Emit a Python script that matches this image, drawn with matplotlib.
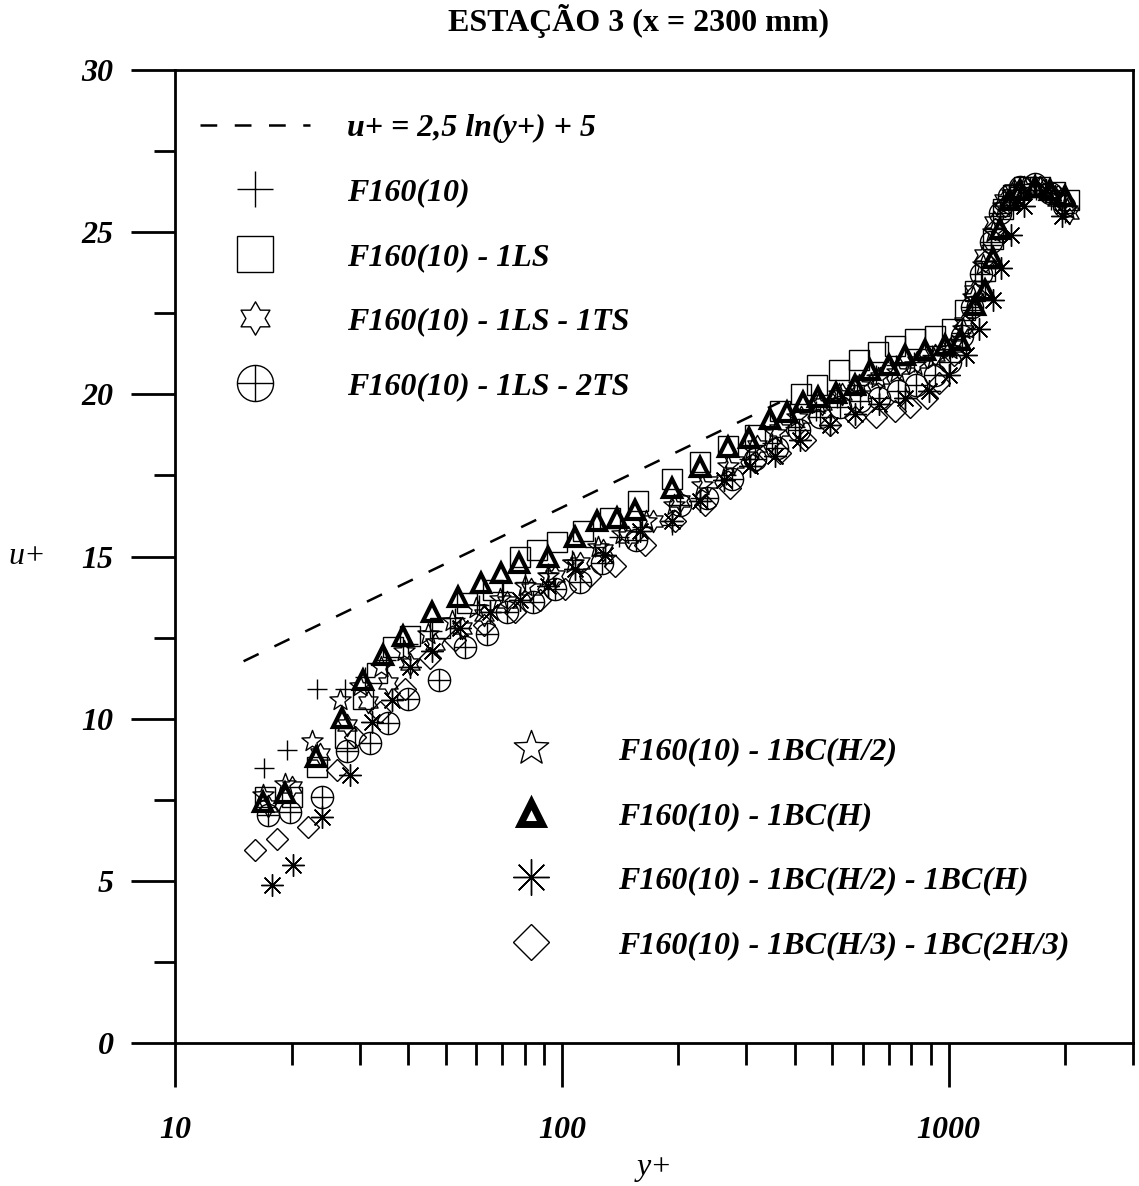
import numpy as np
import matplotlib
matplotlib.use("Agg")
import matplotlib.pyplot as plt
from matplotlib.path import Path
from matplotlib.lines import Line2D
from matplotlib.ticker import FixedLocator, FixedFormatter, NullFormatter

# ---------------- data: velocity profiles, station 3 ----------------
# F160(10)
yp_f160 = [16.9, 19.4, 23.2, 27.5, 31, 35, 40, 46, 53, 61, 70, 80, 92, 106, 122, 140,
           161, 192, 228, 266, 305, 350, 400, 455, 515, 580, 650, 730, 815, 905, 1000,
           1080, 1150, 1220, 1290, 1360, 1440, 1540, 1680, 1840, 2000]
up_f160 = [8.48, 9.03, 10.9, 10.9, 11.3, 11.8, 12.3, 12.7, 13.1, 13.5, 13.9, 14.2, 14.5,
           14.9, 15.3, 15.6, 15.9, 15.97, 16.8, 17.5, 18.0, 18.5, 19.0, 19.5, 19.9, 20.3,
           20.6, 20.9, 21.0, 21.2, 21.4, 21.9, 22.6, 23.5, 24.6, 25.5, 26.0, 26.3, 26.3,
           26.0, 25.6]

# F160(10) - 1LS
yp_1ls = [17.0, 20.0, 23.2, 27.4, 30.5, 33.2, 36.5, 40.4, 48.2, 56.7, 66.3, 78, 86, 97,
          113, 133, 157, 193, 227, 268, 316, 367, 414, 458, 521, 587, 655, 725, 817, 920,
          1018, 1100, 1168, 1240, 1300, 1380, 1470, 1570, 1720, 1880, 2050]
up_1ls = [7.6, 7.6, 8.5, 9.4, 10.6, 11.4, 12.2, 12.55, 12.8, 13.57, 13.97, 15.0, 15.2,
          15.45, 15.8, 16.2, 16.7, 17.4, 17.9, 18.4, 18.75, 19.5, 20.0, 20.3, 20.75, 21.06,
          21.3, 21.5, 21.7, 21.8, 22.0, 22.6, 23.2, 23.8, 24.8, 25.7, 26.15, 26.4, 26.4,
          26.25, 26.0]

# F160(10) - 1LS - 1TS
yp_1ls_1ts = [17.4, 20.0, 23.6, 27.8, 31.5, 35.5, 40.5, 47, 55, 63, 72, 83, 96, 111, 128,
              148, 172, 202, 238, 278, 320, 365, 415, 470, 530, 595, 665, 745, 830, 925,
              1020, 1095, 1165, 1235, 1310, 1390, 1480, 1600, 1750, 1910, 2050]
up_1ls_1ts = [7.3, 7.9, 8.9, 9.8, 10.5, 11.1, 11.7, 12.3, 12.8, 13.2, 13.6, 14.0, 14.4,
              14.8, 15.2, 15.6, 16.1, 16.7, 17.3, 17.9, 18.4, 18.9, 19.3, 19.7, 20.0, 20.3,
              20.5, 20.8, 21.0, 21.2, 21.5, 22.2, 23.2, 24.3, 25.3, 26.0, 26.3, 26.4, 26.3,
              26.0, 25.6]

# F160(10) - 1LS - 2TS
yp_1ls_2ts = [17.4, 19.8, 24.0, 27.8, 31.8, 35.4, 40.0, 48, 56, 64, 72, 84, 96, 111, 127,
              155, 202, 237, 275, 315, 359, 410, 465, 525, 590, 660, 740, 825, 920, 1010,
              1085, 1150, 1215, 1285, 1355, 1430, 1530, 1670, 1830, 1990]
up_1ls_2ts = [7.03, 7.12, 7.6, 9.0, 9.25, 9.87, 10.6, 11.2, 12.2, 12.6, 13.3, 13.6, 14.0,
              14.2, 14.8, 15.5, 16.6, 16.8, 17.4, 18.0, 18.35, 18.9, 19.3, 19.6, 19.8, 19.9,
              20.1, 20.3, 20.6, 21.0, 21.8, 22.7, 23.7, 24.7, 25.6, 26.1, 26.4, 26.5, 26.2,
              25.8]

# F160(10) - 1BC(H/2)
yp_bc_h2 = [16.8, 19.2, 22.6, 26.6, 30, 34, 39, 45, 52, 60, 69, 80, 92, 107, 124, 143, 165,
            195, 230, 268, 310, 355, 405, 460, 520, 585, 655, 735, 820, 915, 1010, 1090,
            1160, 1230, 1300, 1380, 1460, 1570, 1720, 1880, 2020]
up_bc_h2 = [7.65, 8.0, 9.3, 10.58, 11.0, 11.6, 12.1, 12.6, 13.0, 13.4, 13.7, 14.1, 14.4,
            14.8, 15.3, 15.7, 16.1, 16.6, 17.2, 17.8, 18.3, 18.8, 19.3, 19.7, 20.0, 20.3,
            20.5, 20.7, 20.9, 21.1, 21.4, 22.0, 23.0, 24.0, 25.0, 25.8, 26.2, 26.4, 26.4,
            26.1, 25.7]

# F160(10) - 1BC(H)
yp_bc_h = [16.8, 19.2, 23.1, 26.9, 30.5, 34.4, 38.8, 46.0, 53.8, 61.7, 69.5, 77.3, 91.8,
           108, 123, 139, 154, 192, 228, 268, 304, 345, 381, 420, 459, 511, 571, 625, 700,
           770, 867, 977, 1069, 1168, 1240, 1300, 1356, 1439, 1528, 1671, 1827, 1996]
up_bc_h = [7.43, 7.71, 8.82, 10.02, 11.19, 11.96, 12.55, 13.29, 13.75, 14.18, 14.49, 14.8,
           14.99, 15.6, 16.1, 16.19, 16.43, 17.11, 17.76, 18.38, 18.66, 19.24, 19.46, 19.77,
           19.92, 20.04, 20.29, 20.75, 20.9, 21.22, 21.37, 21.52, 21.68, 22.76, 23.22, 24.2,
           25.1, 26.0, 26.3, 26.4, 26.3, 26.1]

# F160(10) - 1BC(H/2) - 1BC(H)
yp_bc_h2_h = [17.8, 20.1, 24.0, 28.3, 32.2, 36.3, 40.4, 46, 54.5, 65, 78, 92, 108, 129, 159,
              192, 228, 262, 306, 355, 412, 492, 571, 662, 770, 890, 1000, 1110, 1200, 1300,
              1370, 1450, 1570, 1790, 1960]
up_bc_h2_h = [4.87, 5.49, 6.97, 8.26, 9.9, 10.58, 11.6, 12.1, 12.8, 13.3, 13.66, 14.1, 14.6,
              15.05, 15.8, 16.1, 16.7, 17.36, 17.8, 18.1, 18.6, 19.05, 19.4, 19.7, 19.9,
              20.1, 20.6, 21.2, 22.0, 22.9, 23.9, 24.9, 25.8, 26.3, 25.5]

# F160(10) - 1BC(H/3) - 1BC(2H/3)
yp_bc_h3_2h3 = [16.1, 18.3, 22.0, 26.2, 29.1, 33.8, 39.3, 45.5, 53, 63, 75.5, 87.6, 102, 118,
                137, 164, 196, 234, 272, 316, 366, 424, 492, 571, 650, 725, 794, 877, 945,
                1030, 1100, 1168, 1240, 1320, 1400, 1530, 1720, 1920]
up_bc_h3_2h3 = [5.95, 6.29, 6.66, 8.42, 9.43, 10.2, 10.9, 11.87, 12.43, 12.9, 13.3, 13.66,
                14.0, 14.4, 14.7, 15.36, 16.1, 16.6, 17.1, 17.9, 18.2, 18.6, 19.05, 19.3,
                19.3, 19.5, 19.6, 19.9, 20.35, 21.2, 22.1, 23.1, 24.1, 25.1, 25.8, 26.2, 26.4,
                26.1]

# log law u+ = 2,5 ln(y+) + 5
LOG_A = 2.5
LOG_B = 5.0
loglaw_range = [15.0, 366.0]

law_label = "u+ = 2,5 ln(y+) + 5"
labels = ["F160(10)", "F160(10) - 1LS", "F160(10) - 1LS - 1TS", "F160(10) - 1LS - 2TS",
          "F160(10) - 1BC(H/2)", "F160(10) - 1BC(H)", "F160(10) - 1BC(H/2) - 1BC(H)",
          "F160(10) - 1BC(H/3) - 1BC(2H/3)"]

x_major = [10, 100, 1000]
x_major_labels = ["10", "100", "1000"]
x_minor = [20, 30, 40, 50, 60, 70, 80, 90, 200, 300, 400, 500, 600, 700, 800, 900,
           2000, 3000]
y_major = [0, 5, 10, 15, 20, 25, 30]
y_minor = [2.5, 7.5, 12.5, 17.5, 22.5, 27.5]

# ---------------- style ----------------
plt.rcParams["font.family"] = ["Liberation Serif", "DejaVu Serif"]
plt.rcParams["font.weight"] = "bold"
plt.rcParams["font.style"] = "italic"

FS = 23

# circle with a cross inside
_circ = Path.unit_circle()
oplus = Path(list(_circ.vertices) + [(-1, 0), (1, 0), (0, -1), (0, 1)],
             list(_circ.codes) + [Path.MOVETO, Path.LINETO, Path.MOVETO, Path.LINETO])
hexagram = Path.unit_regular_star(6, innerCircle=0.577)
pentagram = Path.unit_regular_star(5, innerCircle=0.42)
asterisk8 = (8, 2, 0)

styles = [
    dict(marker="+", ms=15, mew=1.0, lms=26, lmew=1.0),
    dict(marker="s", ms=14, mew=1.0, lms=26, lmew=1.0),
    dict(marker=hexagram, ms=16, mew=1.0, lms=24, lmew=1.0),
    dict(marker=oplus, ms=16, mew=1.0, lms=26, lmew=1.0),
    dict(marker=pentagram, ms=16, mew=1.0, lms=26, lmew=1.0),
    dict(marker="^", ms=13, mew=3.0, lms=16, lmew=5.0),
    dict(marker=asterisk8, ms=16, mew=1.0, lms=26, lmew=1.0),
    dict(marker="D", ms=11, mew=1.0, lms=18, lmew=1.0),
]

series = [
    (yp_f160, up_f160), (yp_1ls, up_1ls), (yp_1ls_1ts, up_1ls_1ts),
    (yp_1ls_2ts, up_1ls_2ts), (yp_bc_h2, up_bc_h2), (yp_bc_h, up_bc_h),
    (yp_bc_h2_h, up_bc_h2_h), (yp_bc_h3_2h3, up_bc_h3_2h3),
]

fig = plt.figure(figsize=(11.39, 11.86), dpi=100)
ax = fig.add_axes([0.15408, 0.12057, 0.84065, 0.82041])
ax.set_xscale("log")
ax.set_xlim(10, 3000)
ax.set_ylim(0, 30)

# log-law reference line
yl = np.geomspace(loglaw_range[0], loglaw_range[1], 200)
ax.plot(yl, LOG_A * np.log(yl) + LOG_B, color="black", lw=1.8, dashes=(6.7, 7.0))

order = [0, 1, 2, 3, 4, 6, 7, 5]
for i in order:
    x, y = series[i]
    st = styles[i]
    ax.plot(x, y, linestyle="none", marker=st["marker"], ms=st["ms"],
            mfc="none", mec="black", mew=st["mew"], zorder=3)

# axes frame and ticks
for sp in ax.spines.values():
    sp.set_linewidth(2.0)
ax.xaxis.set_major_locator(FixedLocator(x_major))
ax.xaxis.set_major_formatter(FixedFormatter(x_major_labels))
ax.xaxis.set_minor_locator(FixedLocator(x_minor))
ax.xaxis.set_minor_formatter(NullFormatter())
ax.yaxis.set_major_locator(FixedLocator(y_major))
ax.yaxis.set_minor_locator(FixedLocator(y_minor))
ax.yaxis.set_minor_formatter(NullFormatter())
ax.tick_params(axis="both", which="both", direction="out", width=2.0,
               top=False, right=False, labelsize=FS)
ax.tick_params(axis="y", which="major", length=31.5, pad=13)
ax.tick_params(axis="y", which="minor", length=15)
ax.tick_params(axis="x", which="major", length=31.5, pad=21)
ax.tick_params(axis="x", which="minor", length=15.5)

ax.set_xlabel("y+", fontsize=FS)
ax.xaxis.set_label_coords(0.5, -0.128)
ax.xaxis.label.set_va("center")
ax.set_ylabel("u+", fontsize=FS, rotation=0)
ax.yaxis.set_label_coords(-0.155, 0.5)
ax.yaxis.label.set_va("center")
ax.yaxis.label.set_ha("center")

fig.text(638 / 1139, 1 - 21 / 1186, "ESTAÇÃO 3 (x = 2300 mm)", ha="center", va="center",
         fontsize=23, fontweight="bold", fontstyle="normal")

# legends
def handle(i):
    st = styles[i]
    return Line2D([], [], linestyle="none", marker=st["marker"], ms=st["lms"],
                  mfc="none", mec="black", mew=st["lmew"])

law_handle = Line2D([], [], color="black", lw=1.8, dashes=(6.7, 7.0))
leg1 = ax.legend([law_handle] + [handle(i) for i in range(4)],
                 [law_label] + labels[:4], loc="upper left",
                 bbox_to_anchor=(0.0256, 0.955), frameon=False, fontsize=FS,
                 handlelength=3.45, handletextpad=1.15, labelspacing=1.1,
                 borderpad=0, borderaxespad=0)
ax.add_artist(leg1)
ax.legend([handle(i) for i in range(4, 8)], labels[4:], loc="upper left",
          bbox_to_anchor=(0.3358, 0.3145), frameon=False, fontsize=FS,
          handlelength=2.1, handletextpad=1.7, labelspacing=1.1,
          borderpad=0, borderaxespad=0)

fig.savefig("out.png", dpi=100)
